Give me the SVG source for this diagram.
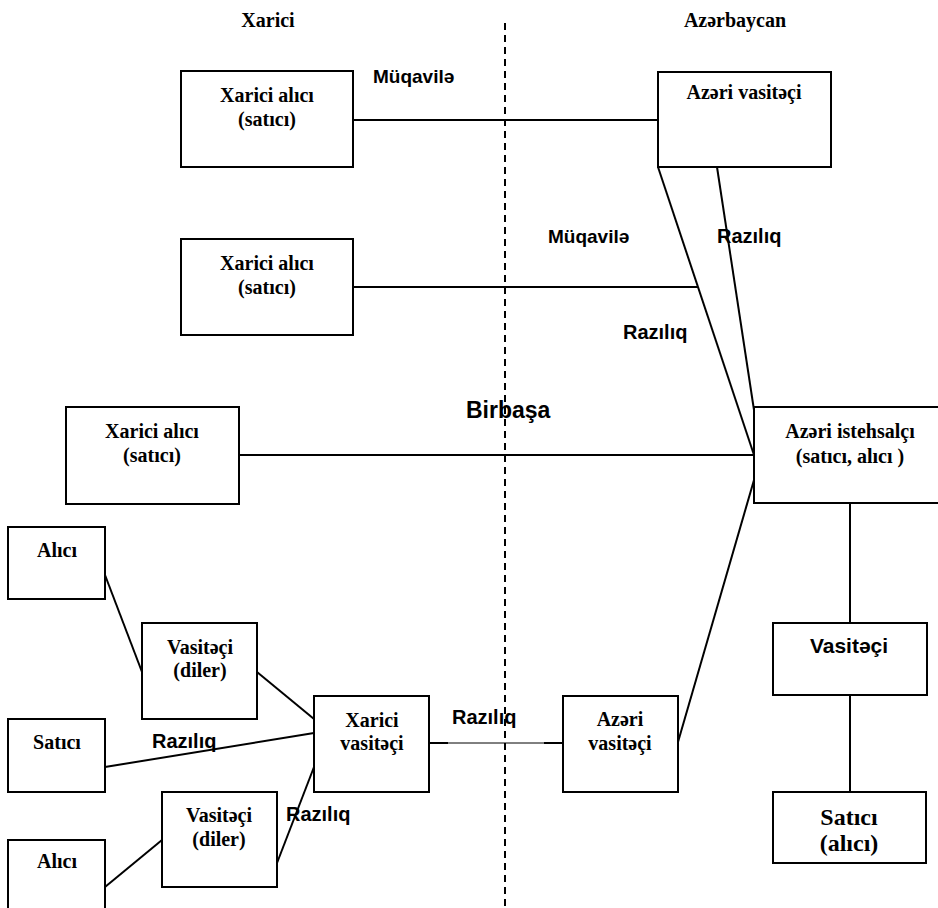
<svg xmlns="http://www.w3.org/2000/svg" width="938" height="908" viewBox="0 0 938 908">
  <style>
    .box { fill: #fff; stroke: #000; stroke-width: 2; }
    .serif { font-family: "Liberation Serif", "Times New Roman", serif; font-weight: bold; font-size: 20px; text-anchor: middle; fill: #000; }
    .sans { font-family: "Liberation Sans", Arial, sans-serif; font-weight: bold; font-size: 19px; fill: #000; }
    .big { font-size: 24px; }
    .link { stroke: #000; stroke-width: 2; fill: none; }
    .thin { stroke: #000; stroke-width: 1; fill: none; }
    .border { stroke: #000; stroke-width: 2; stroke-dasharray: 7 5; fill: none; }
  </style>

  <rect width="938" height="908" fill="#fff"/>

  <!-- region headings and boundary -->
  <g id="headings">
    <text class="serif" x="268" y="27">Xarici</text>
    <text class="serif" x="735" y="27">Azərbaycan</text>
    <line class="border" x1="505" y1="23" x2="505" y2="907"/>
  </g>

  <!-- connectors -->
  <g id="connectors">
    <line class="link" x1="353" y1="120" x2="658" y2="120"/>
    <line class="link" x1="353" y1="287" x2="698" y2="287"/>
    <line class="link" x1="239" y1="455" x2="754" y2="455"/>
    <line class="link" x1="658" y1="167" x2="754" y2="455"/>
    <line class="link" x1="717" y1="167" x2="754" y2="410"/>
    <line class="link" x1="754" y1="480" x2="678" y2="742"/>
    <line class="link" x1="850" y1="503" x2="850" y2="623"/>
    <line class="link" x1="850" y1="695" x2="850" y2="792"/>
    <line class="link" x1="429" y1="743" x2="448" y2="743"/>
    <line class="thin" x1="448" y1="743" x2="544" y2="743"/>
    <line class="link" x1="544" y1="743" x2="563" y2="743"/>
    <line class="link" x1="105" y1="575" x2="142" y2="672"/>
    <line class="link" x1="257" y1="672" x2="314" y2="719"/>
    <line class="link" x1="105" y1="767" x2="314" y2="733"/>
    <line class="link" x1="277" y1="863" x2="314" y2="767"/>
    <line class="link" x1="105" y1="887" x2="162" y2="840"/>
  </g>

  <!-- connector labels -->
  <g id="labels">
    <text class="sans" x="373" y="83">Müqavilə</text>
    <text class="sans" x="548" y="243">Müqavilə</text>
    <text class="sans" x="717" y="243" style="font-size:20px">Razılıq</text>
    <text class="sans" x="623" y="339" style="font-size:20px">Razılıq</text>
    <text class="sans" x="466" y="418" style="font-size:23px">Birbaşa</text>
    <text class="sans" x="452" y="724" style="font-size:20px">Razılıq</text>
    <text class="sans" x="152" y="748" style="font-size:20px">Razılıq</text>
    <text class="sans" x="286" y="821" style="font-size:20px">Razılıq</text>
  </g>

  <g id="xarici-alici-1">
    <rect class="box" x="181" y="71" width="172" height="96"/>
    <text class="serif" x="267" y="102">Xarici alıcı</text>
    <text class="serif" x="267" y="126">(satıcı)</text>
  </g>

  <g id="xarici-alici-2">
    <rect class="box" x="181" y="239" width="172" height="96"/>
    <text class="serif" x="267" y="270">Xarici alıcı</text>
    <text class="serif" x="267" y="294">(satıcı)</text>
  </g>

  <g id="xarici-alici-3">
    <rect class="box" x="66" y="407" width="173" height="97"/>
    <text class="serif" x="152" y="438">Xarici alıcı</text>
    <text class="serif" x="152" y="462">(satıcı)</text>
  </g>

  <g id="azeri-vasiteci-top">
    <rect class="box" x="658" y="72" width="173" height="95"/>
    <text class="serif" x="744" y="99">Azəri vasitəçi</text>
  </g>

  <g id="azeri-istehsalci">
    <rect class="box" x="754" y="407" width="190" height="96"/>
    <text class="serif" x="850" y="438">Azəri istehsalçı</text>
    <text class="serif" x="850" y="463">(satıcı, alıcı )</text>
  </g>

  <g id="vasiteci-right">
    <rect class="box" x="773" y="623" width="154" height="72"/>
    <text class="sans" x="849" y="653" text-anchor="middle" style="font-size:21px">Vasitəçi</text>
  </g>

  <g id="satici-alici">
    <rect class="box" x="773" y="792" width="153" height="71"/>
    <text class="serif big" x="849" y="825">Satıcı</text>
    <text class="serif big" x="849" y="851">(alıcı)</text>
  </g>

  <g id="azeri-vasiteci-bottom">
    <rect class="box" x="563" y="696" width="115" height="96"/>
    <text class="serif" x="620" y="726">Azəri</text>
    <text class="serif" x="620" y="750">vasitəçi</text>
  </g>

  <g id="xarici-vasiteci">
    <rect class="box" x="314" y="696" width="115" height="96"/>
    <text class="serif" x="372" y="727">Xarici</text>
    <text class="serif" x="372" y="750">vasitəçi</text>
  </g>

  <g id="alici-1">
    <rect class="box" x="8" y="527" width="97" height="72"/>
    <text class="serif" x="57" y="557">Alıcı</text>
  </g>

  <g id="vasiteci-diler-1">
    <rect class="box" x="142" y="623" width="115" height="96"/>
    <text class="serif" x="200" y="654">Vasitəçi</text>
    <text class="serif" x="200" y="677">(diler)</text>
  </g>

  <g id="satici">
    <rect class="box" x="8" y="719" width="97" height="73"/>
    <text class="serif" x="57" y="749">Satıcı</text>
  </g>

  <g id="vasiteci-diler-2">
    <rect class="box" x="162" y="792" width="115" height="95"/>
    <text class="serif" x="219" y="822">Vasitəçi</text>
    <text class="serif" x="219" y="846">(diler)</text>
  </g>

  <g id="alici-2">
    <rect class="box" x="8" y="840" width="97" height="80"/>
    <text class="serif" x="57" y="868">Alıcı</text>
  </g>
</svg>
